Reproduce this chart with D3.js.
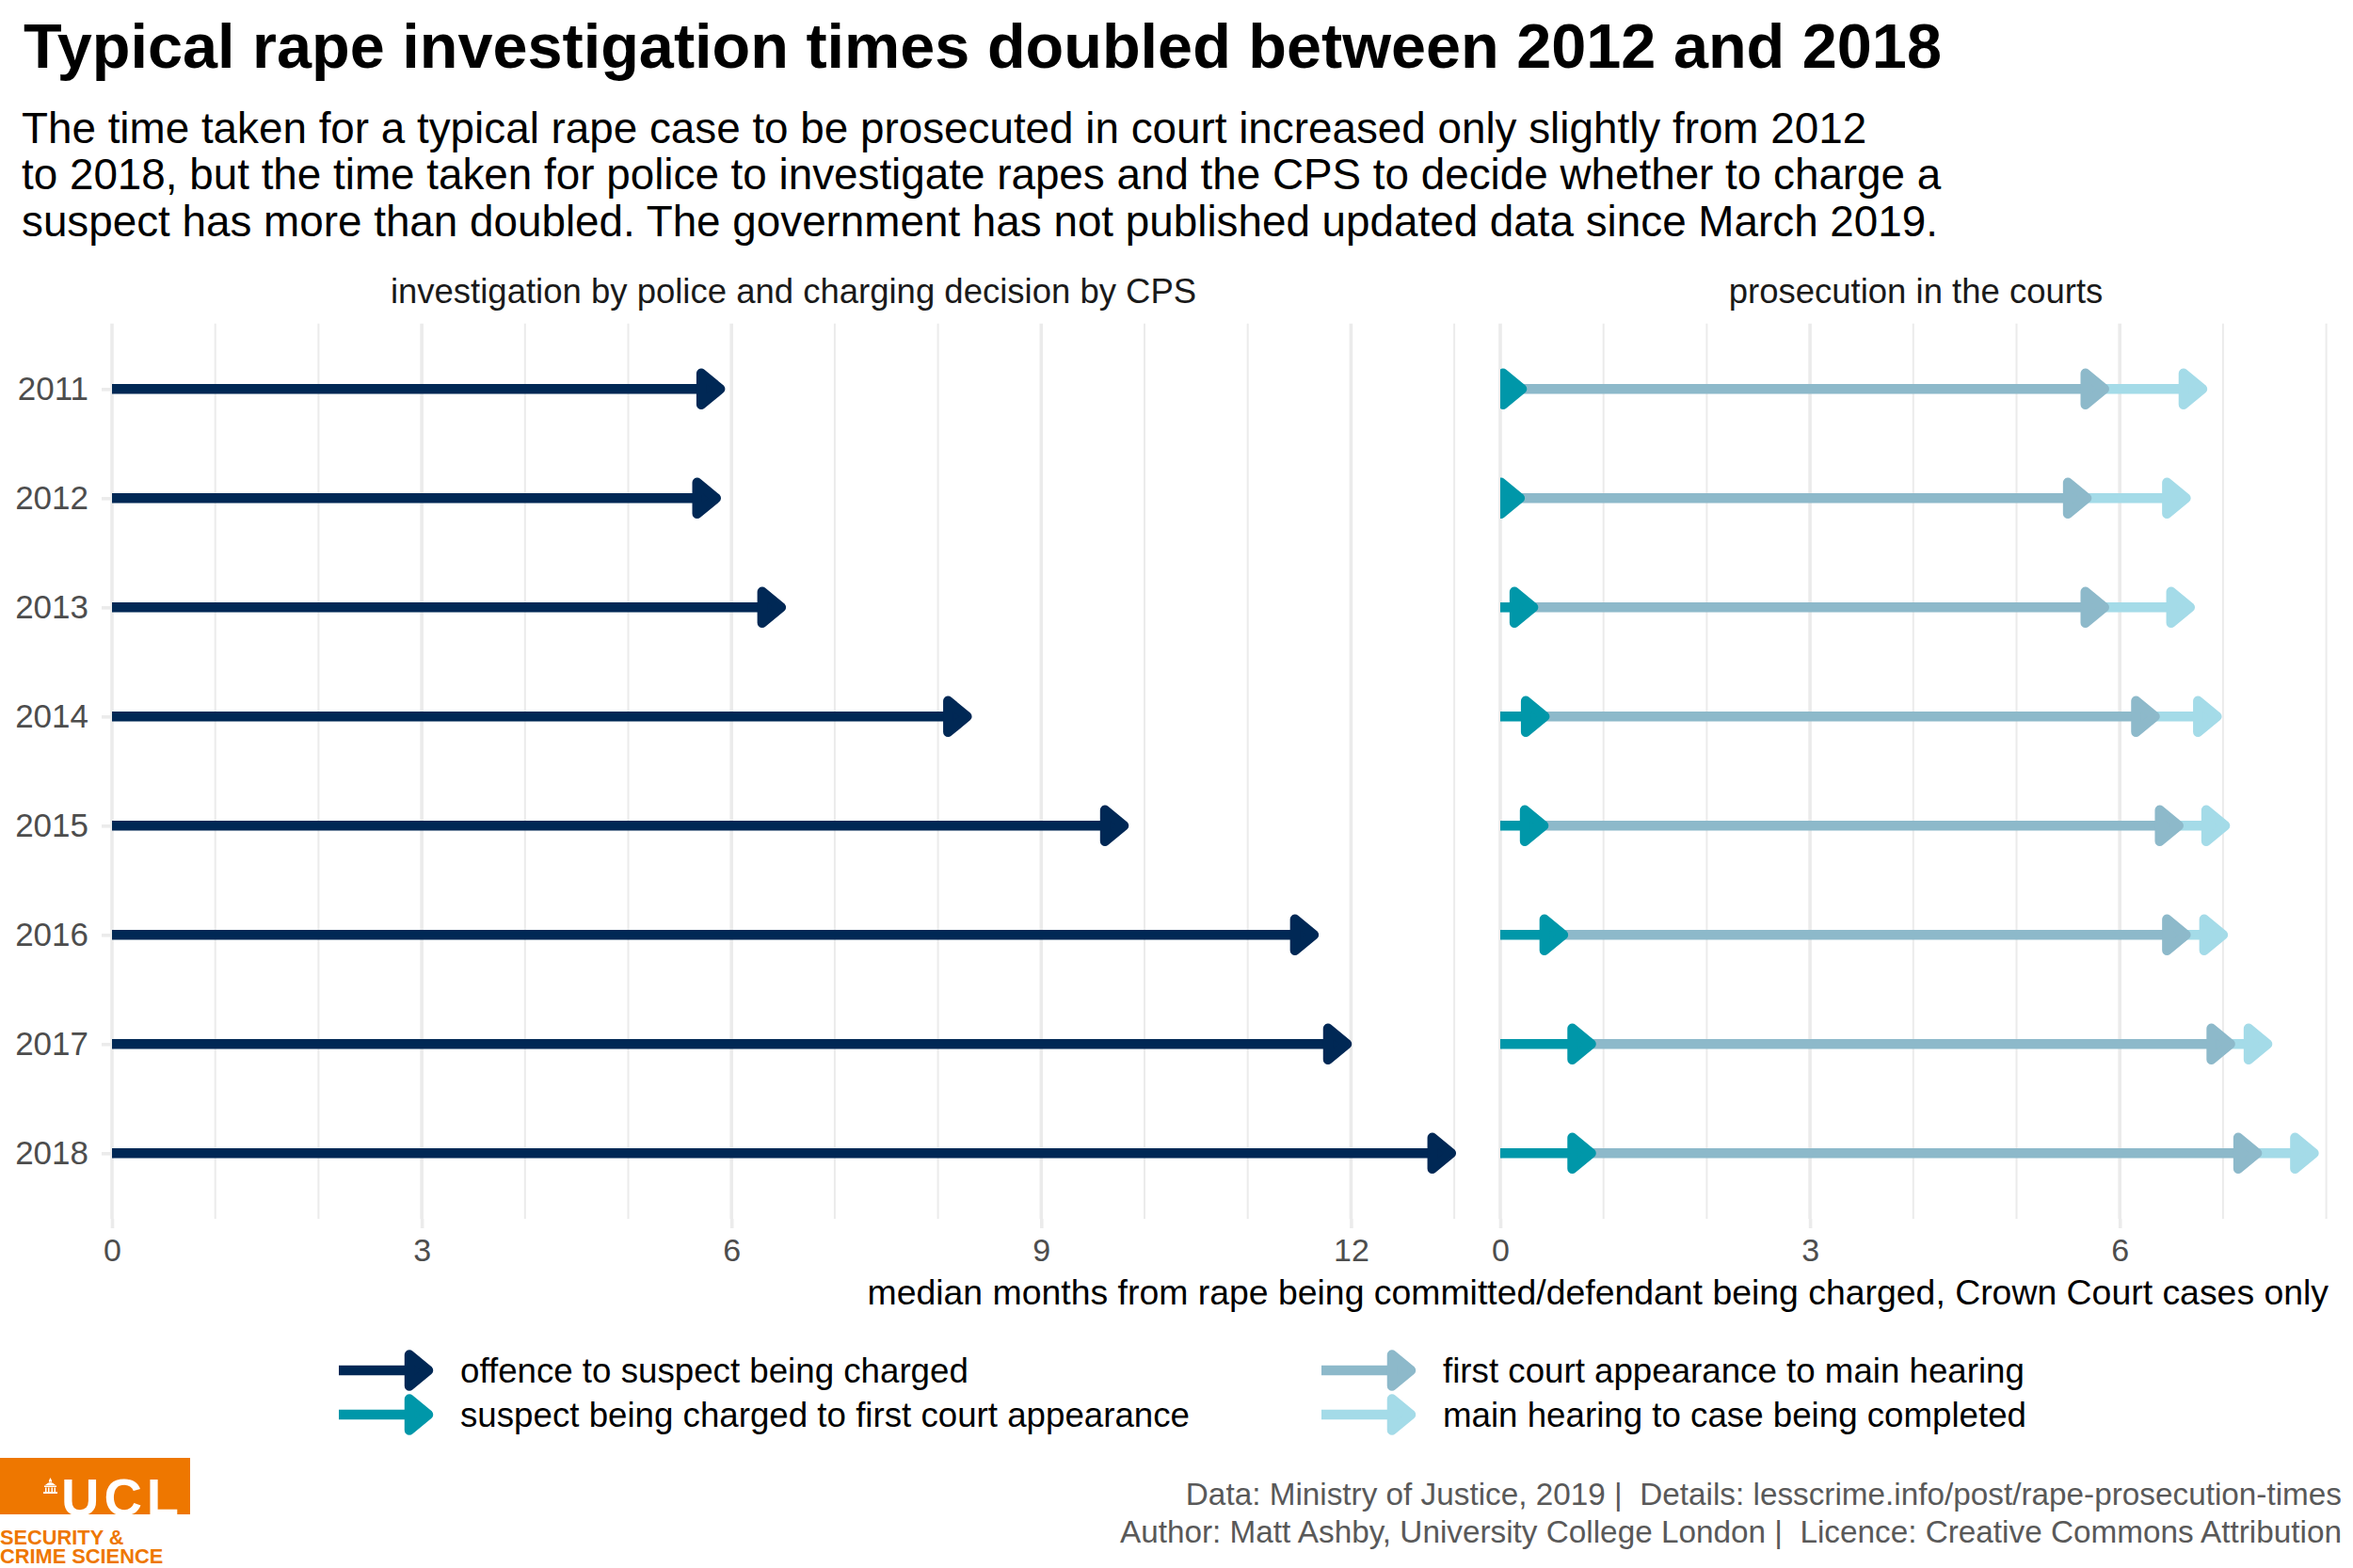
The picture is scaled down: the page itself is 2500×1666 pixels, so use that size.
<!DOCTYPE html>
<html>
<head>
<meta charset="utf-8">
<script src="https://cdn.jsdelivr.net/npm/d3@7"></script>
<style>
  html, body { margin: 0; padding: 0; background: #fff; }
  svg { display: block; font-family: "Liberation Sans", Arial, Helvetica, sans-serif; }
</style>
</head>
<body>
<svg id="chart" width="2500" height="1666"></svg>
<script>
// ---------------- data (median months) ----------------
const years = ["2011", "2012", "2013", "2014", "2015", "2016", "2017", "2018"];
// investigation by police and charging decision by CPS
const offenceToCharge = [5.89, 5.85, 6.48, 8.28, 9.80, 11.64, 11.96, 12.97];
// prosecution in the courts (durations of each stage)
const chargeToFirstCourt = [0.21, 0.19, 0.32, 0.43, 0.42, 0.61, 0.88, 0.88];
const firstCourtToMainHearing = [5.64, 5.49, 5.53, 5.91, 6.15, 6.03, 6.19, 6.45];
const mainHearingToCompletion = [0.95, 0.96, 0.83, 0.60, 0.45, 0.36, 0.36, 0.55];

const leftTicks = [0, 3, 6, 9, 12];
const rightTicks = [0, 3, 6];
const leftMinor = [1, 2, 4, 5, 7, 8, 10, 11, 13];
const rightMinor = [1, 2, 4, 5, 7, 8];

const stageLabels = [
  "offence to suspect being charged",
  "suspect being charged to first court appearance",
  "first court appearance to main hearing",
  "main hearing to case being completed"
];
const stageColours = ["#002855", "#0097A9", "#8DB9CA", "#A4DBE8"];

const titleText = "Typical rape investigation times doubled between 2012 and 2018";
const subtitleLines = [
  "The time taken for a typical rape case to be prosecuted in court increased only slightly from 2012",
  "to 2018, but the time taken for police to investigate rapes and the CPS to decide whether to charge a",
  "suspect has more than doubled. The government has not published updated data since March 2019."
];
const stripLabels = ["investigation by police and charging decision by CPS", "prosecution in the courts"];
const xTitle = "median months from rape being committed/defendant being charged, Crown Court cases only";
const captionLines = [
  "Data: Ministry of Justice, 2019 |  Details: lesscrime.info/post/rape-prosecution-times",
  "Author: Matt Ashby, University College London |  Licence: Creative Commons Attribution"
];

// ---------------- layout ----------------
const svg = d3.select("#chart");
const panelTop = 343.7, panelBottom = 1295;
const monthPx = 109.7;
const leftX0 = 119, rightX0 = 1594;
const leftMax = 13.2, rightMax = 8.05;
const xLeft = d3.scaleLinear().domain([0, leftMax]).range([leftX0, leftX0 + leftMax * monthPx]);
const xRight = d3.scaleLinear().domain([0, rightMax]).range([rightX0, rightX0 + rightMax * monthPx]);
const y = d3.scalePoint().domain(years).range([413.3, 1225.3]);

const gridCol = "#EBEBEB";
const lineW = 10.5;
const headLen = 20, headHalf = 16.5;

// titles
svg.append("text").attr("x", 25).attr("y", 71.5)
  .attr("font-size", 66.6).attr("font-weight", "bold").attr("fill", "#000").text(titleText);
svg.append("g").selectAll("text").data(subtitleLines).join("text")
  .attr("x", 23).attr("y", (d, i) => 152 + i * 49.4)
  .attr("font-size", 45.8).attr("fill", "#000").text(d => d);

// panels
const panels = [
  { x: xLeft, ticks: leftTicks, minor: leftMinor, label: stripLabels[0], id: "pl" },
  { x: xRight, ticks: rightTicks, minor: rightMinor, label: stripLabels[1], id: "pr" }
];

const defs = svg.append("defs");
panels.forEach(p => {
  const r = p.x.range();
  defs.append("clipPath").attr("id", "clip-" + p.id)
    .append("rect").attr("x", r[0]).attr("y", panelTop)
    .attr("width", r[1] - r[0]).attr("height", panelBottom - panelTop);

  const g = svg.append("g");
  // minor grid
  g.selectAll("line.minor").data(p.minor).join("line")
    .attr("x1", d => p.x(d)).attr("x2", d => p.x(d))
    .attr("y1", panelTop).attr("y2", panelBottom)
    .attr("stroke", gridCol).attr("stroke-width", 2);
  // major grid
  g.selectAll("line.major").data(p.ticks).join("line")
    .attr("x1", d => p.x(d)).attr("x2", d => p.x(d))
    .attr("y1", panelTop).attr("y2", panelBottom)
    .attr("stroke", gridCol).attr("stroke-width", 3.6);

  // x axis
  const ax = svg.append("g").attr("transform", `translate(0,${panelBottom})`)
    .call(d3.axisBottom(p.x).tickValues(p.ticks).tickSize(10).tickPadding(11).tickFormat(d3.format("d")));
  ax.select(".domain").remove();
  ax.selectAll(".tick line").attr("stroke", gridCol).attr("stroke-width", 3.6);
  ax.selectAll(".tick text").attr("font-size", 34).attr("fill", "#4D4D4D")
    .attr("font-family", '"Liberation Sans", Arial, sans-serif');

  // strip
  svg.append("text").attr("x", (r[0] + r[1]) / 2).attr("y", 321.5)
    .attr("text-anchor", "middle").attr("font-size", 36.5).attr("fill", "#1A1A1A").text(p.label);
});

// y axis
const ay = svg.append("g").attr("transform", `translate(${leftX0},0)`)
  .call(d3.axisLeft(y).tickSize(11).tickPadding(14));
ay.select(".domain").remove();
ay.selectAll(".tick line").attr("stroke", gridCol).attr("stroke-width", 3.6);
ay.selectAll(".tick text").attr("font-size", 35).attr("fill", "#4D4D4D")
  .attr("font-family", '"Liberation Sans", Arial, sans-serif');

// arrow drawing
function arrow(g, x1, tip, yy, colour) {
  const shaftEnd = Math.max(x1, tip - 12);
  if (shaftEnd > x1) {
    g.append("line").attr("x1", x1).attr("x2", shaftEnd).attr("y1", yy).attr("y2", yy)
      .attr("stroke", colour).attr("stroke-width", lineW);
  }
  g.append("path")
    .attr("d", `M${tip},${yy} L${tip - headLen},${yy - headHalf} L${tip - headLen},${yy + headHalf} Z`)
    .attr("fill", colour).attr("stroke", colour).attr("stroke-width", lineW)
    .attr("stroke-linejoin", "round");
}

// left panel marks
const gl = svg.append("g").attr("clip-path", "url(#clip-pl)");
years.forEach((yr, i) => {
  arrow(gl, xLeft(0), xLeft(offenceToCharge[i]), y(yr), stageColours[0]);
});

// right panel marks (later stages drawn first so earlier heads sit on top)
const gr = svg.append("g").attr("clip-path", "url(#clip-pr)");
years.forEach((yr, i) => {
  const a = chargeToFirstCourt[i];
  const b = a + firstCourtToMainHearing[i];
  const c = b + mainHearingToCompletion[i];
  arrow(gr, xRight(b), xRight(c), y(yr), stageColours[3]);
  arrow(gr, xRight(a), xRight(b), y(yr), stageColours[2]);
  arrow(gr, xRight(0), xRight(a), y(yr), stageColours[1]);
});

// x axis title
svg.append("text").attr("x", xRight.range()[1] - 3).attr("y", 1386)
  .attr("text-anchor", "end").attr("font-size", 37.4).attr("fill", "#000").text(xTitle);

// legend
const legendCols = [360, 1404];
const legendRows = [1456, 1503];
const leg = svg.append("g");
stageLabels.forEach((lab, i) => {
  const cx = legendCols[Math.floor(i / 2)];
  const cy = legendRows[i % 2];
  arrow(leg, cx, cx + 95, cy, stageColours[i]);
  leg.append("text").attr("x", cx + 129).attr("y", cy + 12.5)
    .attr("font-size", 36.7).attr("fill", "#000").text(lab);
});

// caption
svg.append("g").selectAll("text").data(captionLines).join("text")
  .attr("x", 2488).attr("y", (d, i) => 1599 + i * 40)
  .attr("text-anchor", "end").attr("font-size", 33.3).attr("fill", "#595959")
  .attr("xml:space", "preserve").style("white-space", "pre").text(d => d);

// logo
const orange = "#EE7700";
const logo = svg.append("g");
logo.append("rect").attr("x", 0).attr("y", 1549).attr("width", 202).attr("height", 60).attr("fill", orange);
logo.append("text").attr("x", 65).attr("y", 1609.5).attr("font-size", 56).attr("font-weight", "bold")
  .attr("fill", "#fff").attr("textLength", 125).text("UCL");
// small portico icon
logo.append("path")
  .attr("d", "M53.5,1570 L55,1573 L55,1575 Q53.5,1573.5 52,1575 L52,1573 Z M48,1578 Q53.5,1572 59,1578 Z M47,1578.5 H60 V1580 H47 Z M48,1580.5 H49.5 V1585 H48 Z M51,1580.5 H52.5 V1585 H51 Z M54.5,1580.5 H56 V1585 H54.5 Z M57.5,1580.5 H59 V1585 H57.5 Z M46,1585 H61 V1587 H46 Z")
  .attr("fill", "#fff");
logo.append("text").attr("x", 0).attr("y", 1640.5).attr("font-size", 21.8).attr("font-weight", "bold")
  .attr("fill", orange).text("SECURITY &");
logo.append("text").attr("x", 0).attr("y", 1661).attr("font-size", 21.8).attr("font-weight", "bold")
  .attr("fill", orange).text("CRIME SCIENCE");
</script>
</body>
</html>
